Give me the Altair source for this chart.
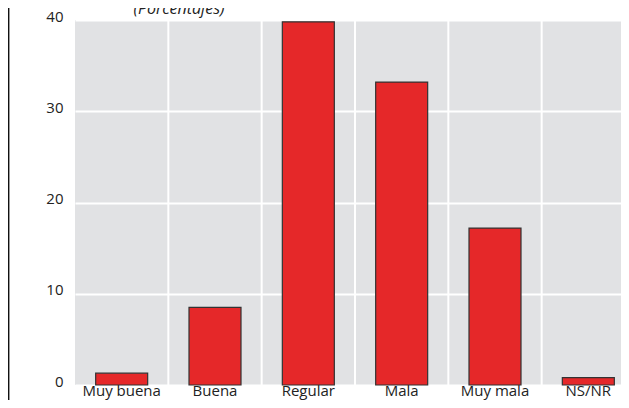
import altair as alt
import pandas as pd

categories = ["Muy buena", "Buena", "Regular", "Mala", "Muy mala", "NS/NR"]
values = [1.3, 8.5, 39.8, 33.2, 17.2, 0.8]
y_ticks = [0, 10, 20, 30, 40]
title_text = ["(Porcentajes)"]

df = pd.DataFrame({"cat": categories, "val": values})
grid_df = pd.DataFrame({"cat": categories[1:]})
title_df = pd.DataFrame({"t": title_text})

FONT = "Open Sans"
W = 560
BAND = W / len(categories)

x_scale = alt.Scale(domain=categories, paddingInner=0, paddingOuter=0)
y_scale = alt.Scale(domain=[0, 40], nice=False)

bars = alt.Chart(df).mark_bar(
    color="#E52829", stroke="#333333", strokeWidth=1.2, size=52
).encode(
    x=alt.X("cat:N", scale=x_scale, sort=categories, title=None,
            axis=alt.Axis(labelAngle=0, labelAlign="center", labelBaseline="alphabetic",
                          labelFont=FONT, labelFontSize=15,
                          labelColor="#222222", labelPadding=10, ticks=False,
                          domain=False, grid=False, bandPosition=0.5)),
    y=alt.Y("val:Q", scale=y_scale, title=None,
            axis=alt.Axis(values=y_ticks, labelFont=FONT, labelFontSize=15,
                          labelColor="#222222", labelPadding=12, ticks=False,
                          domain=False, grid=True, gridColor="white",
                          gridWidth=2, labelOffset=-4)),
)

vgrid = alt.Chart(grid_df).mark_rule(
    color="white", strokeWidth=2, xOffset=-BAND / 2
).encode(
    x=alt.X("cat:N", scale=x_scale, sort=categories),
)

border = alt.Chart(grid_df).mark_rule(color="#111111", strokeWidth=1.2).encode(
    x=alt.value(-66.5), y=alt.value(-20), y2=alt.value(400),
)

title_mark = alt.Chart(title_df).mark_text(
    align="center", baseline="alphabetic", font=FONT, fontSize=16,
    fontStyle="italic", color="#222222"
).encode(
    text="t:N", x=alt.value(104), y=alt.value(-6),
)

chart = alt.layer(vgrid, bars, border, title_mark).properties(
    width=W, height=365,
    padding={"left": 67, "top": 12, "right": -14, "bottom": 15},
    autosize=alt.AutoSizeParams(type="none"),
).configure_view(fill="#E1E2E4", stroke=None)

chart.save("out.html", embed_options={"renderer": "svg", "actions": False})
